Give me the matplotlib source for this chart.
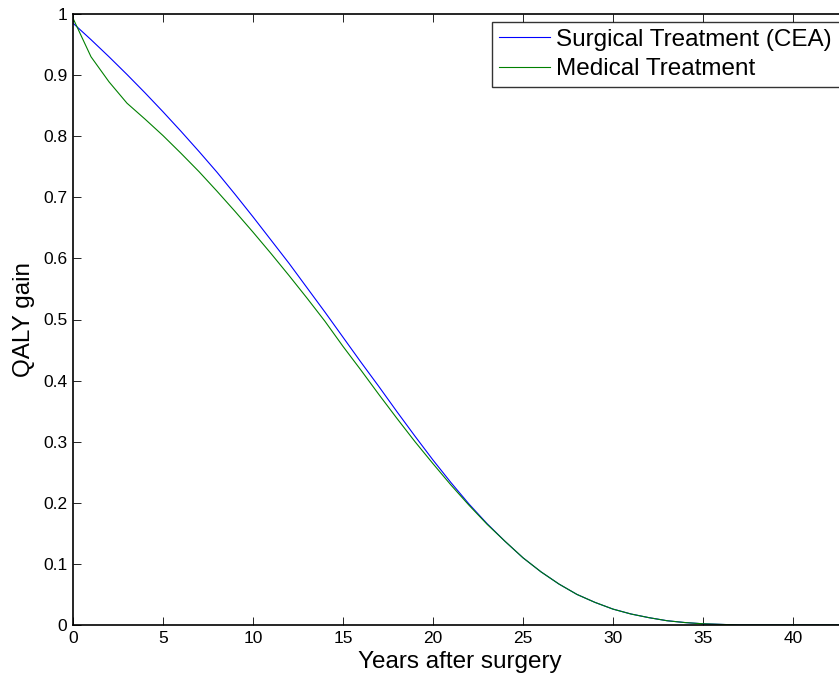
import numpy as np
import matplotlib.pyplot as plt

plt.rcParams['font.family'] = ['Liberation Sans', 'DejaVu Sans']

# QALY gain per year after surgery
years = np.arange(0, 44)

surgical = np.array([
    0.985, 0.958, 0.930, 0.901, 0.871, 0.840, 0.808, 0.775, 0.741, 0.705,
    0.668, 0.630, 0.592, 0.552, 0.512, 0.471, 0.430, 0.390, 0.349, 0.309,
    0.270, 0.233, 0.198, 0.166, 0.137, 0.110, 0.087, 0.067, 0.050, 0.037,
    0.026, 0.018, 0.012, 0.007, 0.004, 0.002, 0.001, 0.0, 0.0, 0.0,
    0.0, 0.0, 0.0, 0.0])

medical = np.array([
    0.993, 0.930, 0.889, 0.854, 0.828, 0.801, 0.772, 0.742, 0.710, 0.677,
    0.643, 0.608, 0.572, 0.535, 0.497, 0.456, 0.417, 0.377, 0.338, 0.300,
    0.264, 0.229, 0.196, 0.165, 0.137, 0.110, 0.087, 0.067, 0.050, 0.037,
    0.026, 0.018, 0.012, 0.007, 0.004, 0.002, 0.001, 0.0, 0.0, 0.0,
    0.0, 0.0, 0.0, 0.0])

xticks = [0, 5, 10, 15, 20, 25, 30, 35, 40]
yticks = [0, 0.1, 0.2, 0.3, 0.4, 0.5, 0.6, 0.7, 0.8, 0.9, 1]
ytick_labels = ['0', '0.1', '0.2', '0.3', '0.4', '0.5', '0.6', '0.7', '0.8', '0.9', '1']

fig = plt.figure(figsize=(8.39, 6.79), dpi=100)
# axes run a little past the right edge of the picture, like the reference
ax = fig.add_axes([73 / 839, 1 - 625 / 679, 43 * 18 / 839, 611 / 679])

ax.plot(years, surgical, color='#0000ff', linewidth=0.8, label='Surgical Treatment (CEA)')
ax.plot(years, medical, color='#008000', linewidth=0.8, label='Medical Treatment')

ax.set_xlim(0, 43)
ax.set_ylim(0, 1)
ax.set_xticks(xticks)
ax.set_yticks(yticks)
ax.set_yticklabels(ytick_labels)
ax.tick_params(direction='in', length=6, width=0.6, labelsize=12.5, top=True, right=True, pad=4)
for s in ax.spines.values():
    s.set_linewidth(1.2)

ax.set_xlabel('Years after surgery', fontsize=17.5, labelpad=4)
ax.set_ylabel('QALY gain', fontsize=17.5, labelpad=6)

# legend box starts at x=492px, top at y=22px and runs off the right edge
top = 1 - 22 / 679
leg = ax.legend(loc='upper left', bbox_to_anchor=(492 / 839, top - 0.1, 0.5, 0.1),
                bbox_transform=fig.transFigure, mode='expand', fontsize=17.5, frameon=True,
                fancybox=False, borderaxespad=0, borderpad=0.28, handlelength=2.1,
                handletextpad=0.25, labelspacing=0.3)
leg.get_frame().set_edgecolor('black')
leg.get_frame().set_linewidth(1.0)

fig.savefig('out.png', dpi=100)
